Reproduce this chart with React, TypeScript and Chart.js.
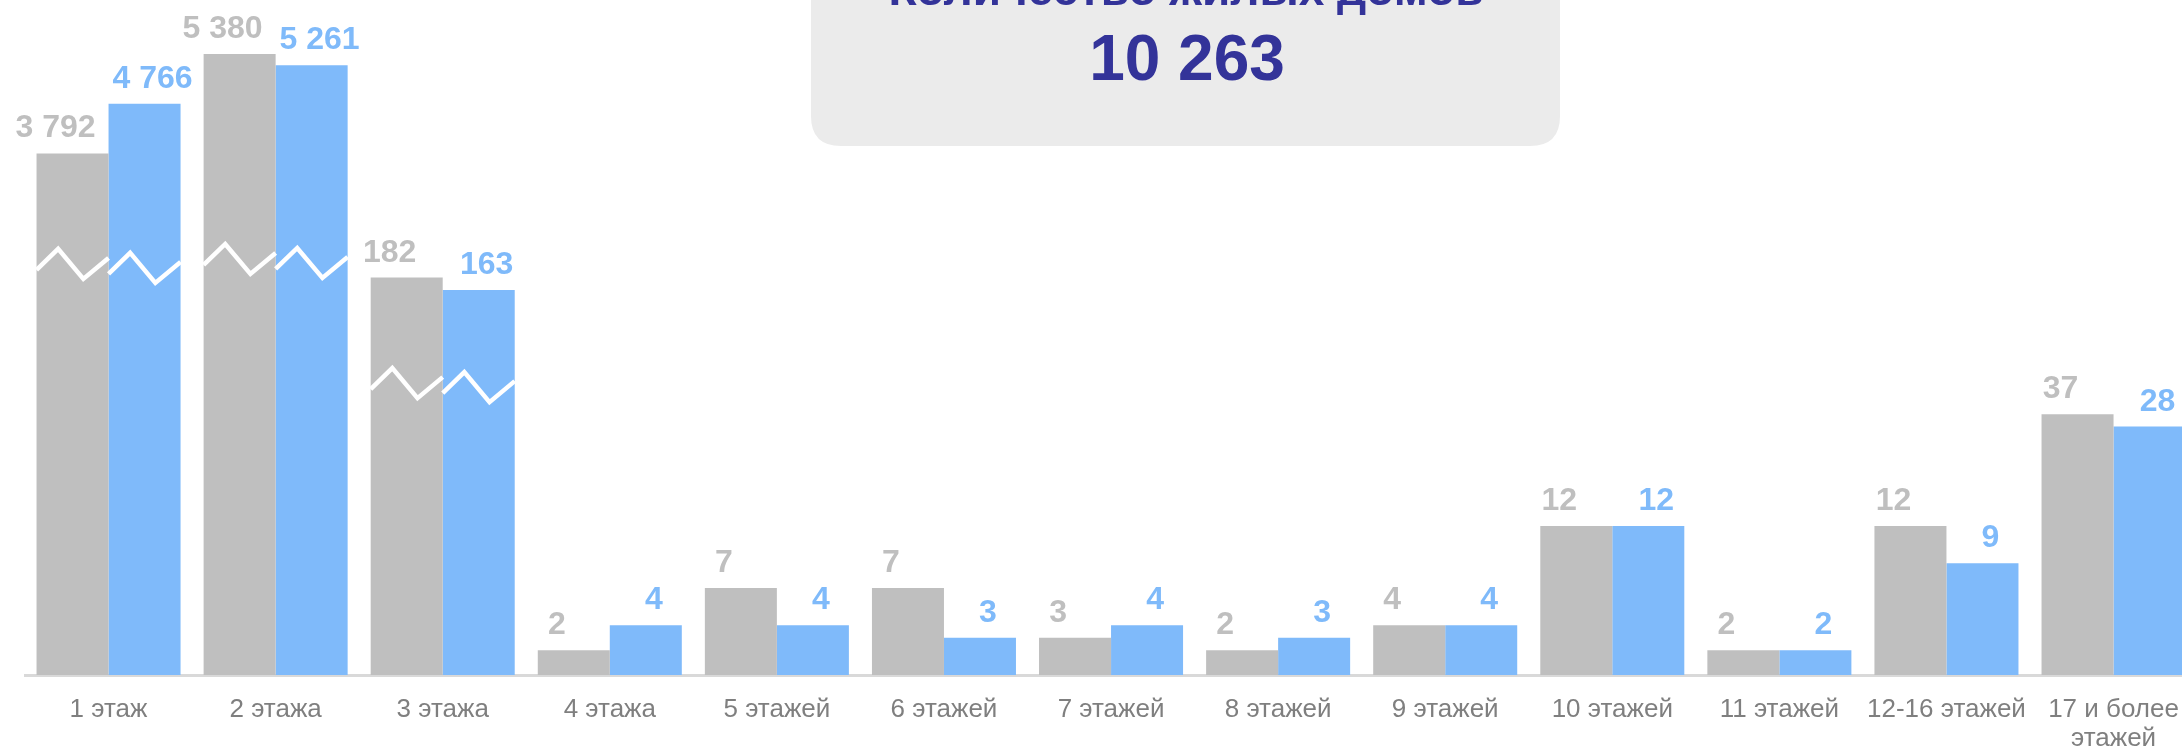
import React, { useEffect, useRef } from "react";
import { Chart, registerables } from "chart.js";

Chart.register(...registerables);

// Categories (number of floors)
const categories: (string | string[])[] = [
  "1 этаж",
  "2 этажа",
  "3 этажа",
  "4 этажа",
  "5 этажей",
  "6 этажей",
  "7 этажей",
  "8 этажей",
  "9 этажей",
  "10 этажей",
  "11 этажей",
  "12-16 этажей",
  ["17 и более", "этажей"],
];

// Labelled values (number of residential houses)
const greyValues = [3792, 5380, 182, 2, 7, 7, 3, 2, 4, 12, 2, 12, 37];
const blueValues = [4766, 5261, 163, 4, 4, 3, 4, 3, 4, 12, 2, 9, 28];

// Bar heights as drawn on the broken (non-linear) axis
const greyHeights = [42, 50, 32, 2, 7, 7, 3, 2, 4, 12, 2, 12, 21];
const blueHeights = [46, 49.1, 31, 4, 4, 3, 4, 3, 4, 12, 2, 9, 20];

// Where the axis-break zigzag marks sit (same units as the heights); null = no break
const breakLevels: (number | null)[] = [33.1, 33.5, 23.5, null, null, null, null, null, null, null, null, null, null];

const titleText = "Количество жилых домов";
const totalText = "10 263";

const GREY = "#bfbfbf";
const BLUE = "#7fbafa";
const FONT = "'Liberation Sans', Arial, sans-serif";

const fmt = (v: number) => String(v).replace(/\B(?=(\d{3})+(?!\d))/g, " ");

const overlayPlugin = {
  id: "overlay",
  beforeDatasetsDraw(chart: any) {
    const ctx = chart.ctx;
    ctx.save();
    // title box
    const x0 = 811, x1 = 1560, y0 = -60, y1 = 146, r = 30;
    ctx.fillStyle = "#ebebeb";
    ctx.beginPath();
    ctx.moveTo(x0, y0);
    ctx.lineTo(x1, y0);
    ctx.lineTo(x1, y1 - r);
    ctx.quadraticCurveTo(x1, y1, x1 - r, y1);
    ctx.lineTo(x0 + r, y1);
    ctx.quadraticCurveTo(x0, y1, x0, y1 - r);
    ctx.closePath();
    ctx.fill();
    ctx.fillStyle = "#333399";
    ctx.textAlign = "center";
    ctx.textBaseline = "alphabetic";
    ctx.font = `bold 46px ${FONT}`;
    ctx.fillText(titleText, 1186, 5);
    ctx.font = `bold 64px ${FONT}`;
    ctx.fillText(totalText, 1187, 80);
    ctx.restore();
  },
  afterDatasetsDraw(chart: any) {
    const ctx = chart.ctx;
    const yScale = chart.scales.y;
    ctx.save();
    // axis break marks
    const fr = [0, 0.3, 0.65, 1.0];
    const off = [6, -15, 15, -6];
    [0, 1].forEach((di) => {
      const meta = chart.getDatasetMeta(di);
      meta.data.forEach((bar: any, j: number) => {
        const lvl = breakLevels[j];
        if (lvl == null) return;
        const yc = yScale.getPixelForValue(lvl) + (di === 1 ? 4 : 0);
        const left = bar.x - bar.width / 2;
        ctx.strokeStyle = "#ffffff";
        ctx.lineWidth = 4.5;
        ctx.lineJoin = "miter";
        ctx.beginPath();
        fr.forEach((f, k) => {
          const px = left + f * bar.width;
          const py = yc + off[k];
          if (k === 0) ctx.moveTo(px, py);
          else ctx.lineTo(px, py);
        });
        ctx.stroke();
      });
    });
    // value labels
    ctx.font = `bold 32px ${FONT}`;
    ctx.textAlign = "center";
    ctx.textBaseline = "alphabetic";
    const sets = [
      { vals: greyValues, color: GREY, dx: -17 },
      { vals: blueValues, color: BLUE, dx: 8 },
    ];
    sets.forEach((s, di) => {
      const meta = chart.getDatasetMeta(di);
      ctx.fillStyle = s.color;
      meta.data.forEach((bar: any, j: number) => {
        ctx.fillText(fmt(s.vals[j]), bar.x + s.dx, bar.y - 16);
      });
    });
    ctx.restore();
  },
};

export default function App() {
  const ref = useRef<HTMLCanvasElement>(null);
  useEffect(() => {
    if (!ref.current) return;
    const chart = new Chart(ref.current, {
      type: "bar",
      data: {
        labels: categories as any,
        datasets: [
          {
            label: "A",
            data: greyHeights,
            backgroundColor: GREY,
            borderWidth: 0,
            barPercentage: 1,
            categoryPercentage: 0.862,
          },
          {
            label: "B",
            data: blueHeights,
            backgroundColor: BLUE,
            borderWidth: 0,
            barPercentage: 1,
            categoryPercentage: 0.862,
          },
        ],
      },
      options: {
        animation: false,
        responsive: false,
        devicePixelRatio: 1,
        layout: { padding: { left: 25, right: 2, top: 0, bottom: 0 } },
        plugins: {
          legend: { display: false },
          tooltip: { enabled: false },
          title: { display: false },
        },
        scales: {
          x: {
            grid: { display: false, drawTicks: false },
            border: { display: true, color: "#d9d9d9", width: 3 },
            ticks: {
              autoSkip: false,
              maxRotation: 0,
              minRotation: 0,
              padding: 21,
              color: "#7f7f7f",
              font: { family: FONT, size: 26, lineHeight: 1.1 },
            },
            afterFit: (s: any) => {
              s.height = 74;
            },
          },
          y: {
            display: false,
            min: 0,
            max: 54.35,
          },
        },
      },
      plugins: [overlayPlugin],
    });
    return () => chart.destroy();
  }, []);
  return (
    <div
      style={{
        position: "fixed",
        left: 0,
        top: 0,
        width: 2182,
        height: 749,
        overflow: "hidden",
        background: "#ffffff",
      }}
    >
      <canvas ref={ref} width={2200} height={749} style={{ display: "block" }} />
    </div>
  );
}
